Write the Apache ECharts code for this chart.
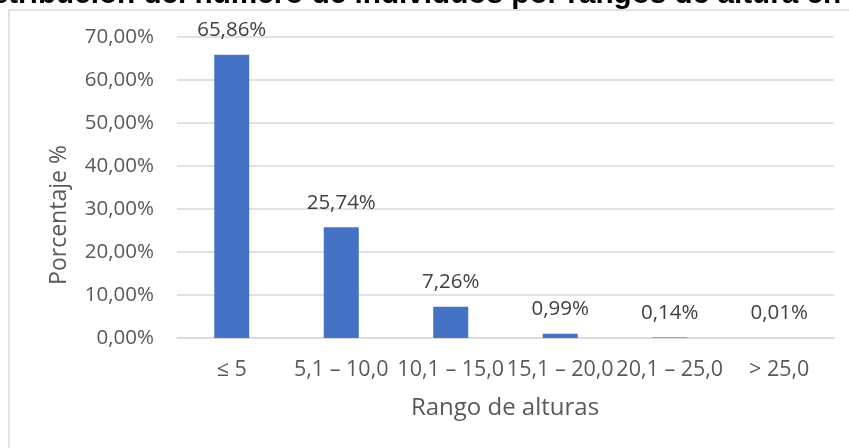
<!DOCTYPE html>
<html><head><meta charset="utf-8">
<script src="https://cdn.jsdelivr.net/npm/echarts@6/dist/echarts.min.js"></script>
<style>html,body{margin:0;padding:0;background:#fff}#c{width:849px;height:448px}</style>
</head><body><div id="c"></div>
<script>
const categories = ['≤ 5', '5,1 – 10,0', '10,1 – 15,0', '15,1 – 20,0', '20,1 – 25,0', '> 25,0'];
const percentages = [65.86, 25.74, 7.26, 0.99, 0.14, 0.01];
const titleText = 'Distribución del número de individuos por rangos de altura en';
const yAxisName = 'Porcentaje %';
const xAxisName = 'Rango de alturas';

const FONT = '"Open Sans", sans-serif';
const fmt = v => v.toFixed(2).replace('.', ',') + '%';
const chart = echarts.init(document.getElementById('c'), null, {renderer: 'canvas'});
chart.setOption({
  animation: false,
  backgroundColor: '#fff',
  textStyle: {fontFamily: FONT},
  grid: {left: 177, right: 15, top: 37, bottom: 110, containLabel: false},
  graphic: [
    {type: 'rect', shape: {x: 9, y: 10, width: 900, height: 500}, style: {fill: 'none', stroke: '#d9d9d9', lineWidth: 1.5}, z: -1},
    {type: 'text', x: -38, y: -20, style: {text: titleText, font: 'bold 29.7px "Liberation Sans", Arial, sans-serif', fill: '#000', verticalAlign: 'top'}},
    {type: 'text', x: 59, y: 215, rotation: Math.PI / 2, style: {text: yAxisName, font: '23px "Open Sans", sans-serif', fill: '#595959', align: 'center', verticalAlign: 'middle'}},
    {type: 'text', x: 505, y: 408, style: {text: xAxisName, font: '24px "Open Sans", sans-serif', fill: '#595959', align: 'center', verticalAlign: 'middle'}}
  ],
  xAxis: {
    type: 'category', data: categories,
    axisLine: {show: true, lineStyle: {color: '#d9d9d9', width: 1.5}},
    axisTick: {show: false},
    axisLabel: {interval: 0, fontSize: 21.5, color: '#595959', margin: 21, fontFamily: FONT}
  },
  yAxis: {
    type: 'value', min: 0, max: 70, interval: 10,
    axisLine: {show: false}, axisTick: {show: false},
    splitLine: {lineStyle: {color: '#d9d9d9', width: 1.5}},
    axisLabel: {formatter: fmt, fontSize: 20.5, color: '#595959', margin: 23, fontFamily: FONT}
  },
  series: [{
    type: 'bar', data: percentages, barWidth: 35,
    itemStyle: {color: '#4472c4'},
    label: {show: true, position: 'top', distance: 14, formatter: p => fmt(p.value), fontSize: 20.5, color: '#404040', fontFamily: FONT}
  }]
});
</script></body></html>
